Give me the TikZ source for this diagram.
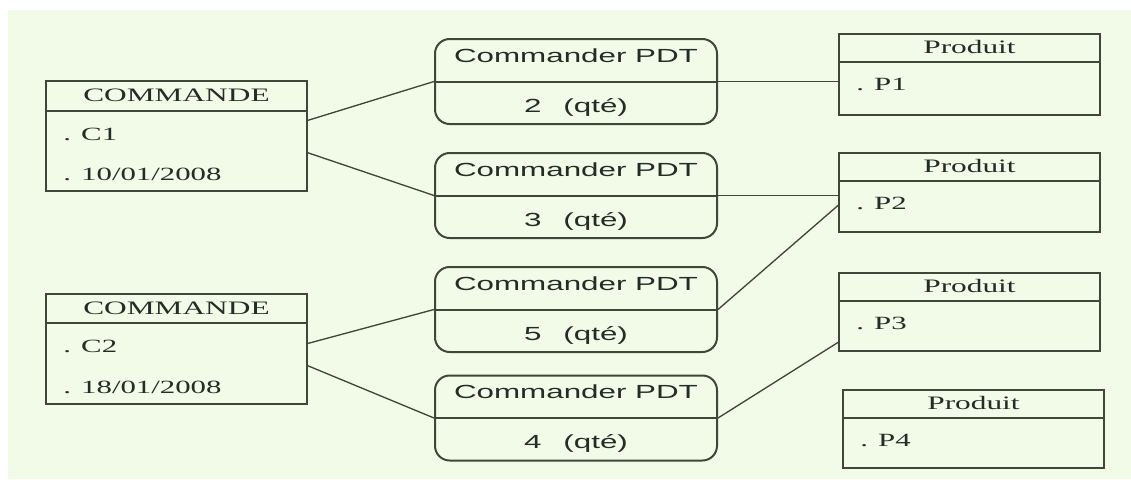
\documentclass[tikz,border=0pt]{standalone}
\usepackage{graphicx}
\usepackage{fontspec}
\setmainfont{Liberation Serif}
\newfontfamily\arialfam{Liberation Sans}
\usetikzlibrary{calc}

\definecolor{bgtint}{RGB}{242,250,232}
\definecolor{inkline}{RGB}{62,72,58}
\definecolor{inktext}{RGB}{40,42,40}

% text is set wide, as in the original drawing
\newcommand{\wide}[1]{\scalebox{1.65}[1]{#1}}

\tikzset{
  entitybox/.style={draw=inkline, line width=1.5pt, rectangle, inner sep=0pt,
                    minimum width=195.75pt},
  assocbox/.style={draw=inkline, line width=1.5pt, rectangle, rounded corners=11pt,
                   inner sep=0pt, minimum width=211.5pt, minimum height=63.75pt},
  divline/.style={draw=inkline, line width=1.5pt},
  link/.style={draw=inkline, line width=1pt},
  headserif/.style={text=inktext, inner sep=0pt, font=\fontsize{14.25}{17}\selectfont},
  bodyserif/.style={text=inktext, inner sep=0pt, anchor=base west, font=\fontsize{14}{17}\selectfont},
  headsans/.style={text=inktext, inner sep=0pt, anchor=base, font=\arialfam\fontsize{14.25}{17}\selectfont},
}

\begin{document}
\begin{tikzpicture}[x=0.75pt, y=-0.75pt]
  % canvas
  \fill[white] (0,0) rectangle (1131,479);
  \fill[bgtint] (8,10) rectangle (1131,479);
  \useasboundingbox (0,0) rectangle (1131,479);

  % ---- COMMANDE entities ----
  \node[entitybox, minimum height=82.5pt] (cmdA) at (176.5,136) {};
  \draw[divline] ($(cmdA.north west)+(0,31)$) -- ($(cmdA.north east)+(0,31)$);
  \node[headserif] (cmdAhead) at ($(cmdA.north)+(0,15.5)$) {\wide{COMMANDE}};
  \node[bodyserif] (cmdAid) at (63,140) {\wide{. C1}};
  \node[bodyserif] (cmdAdate) at (63,180) {\wide{. 10/01/2008}};

  \node[entitybox, minimum height=82.5pt] (cmdB) at (176.5,349) {};
  \draw[divline] ($(cmdB.north west)+(0,30)$) -- ($(cmdB.north east)+(0,30)$);
  \node[headserif] (cmdBhead) at ($(cmdB.north)+(0,15)$) {\wide{COMMANDE}};
  \node[bodyserif] (cmdBid) at (63,352) {\wide{. C2}};
  \node[bodyserif] (cmdBdate) at (63,393) {\wide{. 18/01/2008}};

  % ---- Commander PDT associations ----
  \foreach \nm/\cy/\qty in {relA/81.5/2, relB/195.5/3, relC/309.5/5, relD/418/4}{
    \node[assocbox] (\nm) at (576,\cy) {};
    \draw[divline] (\nm.west) -- (\nm.east);
    \node[headsans] (\nm head) at ($(\nm.north)+(0,24)$) {\wide{Commander PDT}};
    \node[headsans] (\nm qty) at ($(\nm.center)+(0,30.5)$) {\wide{\qty\hspace{10pt}(qté)}};
  }

  % ---- Produit entities ----
  \foreach \nm/\cx/\ty/\hh/\code in {prodA/969.5/34/81/P1, prodB/969.5/153/79/P2,
                                    prodC/969.5/273/78/P3, prodD/973.5/390/78/P4}{
    \node[entitybox, minimum height=\hh*0.75pt] (\nm) at (\cx,\ty+\hh/2) {};
    \draw[divline] ($(\nm.north west)+(0,29)$) -- ($(\nm.north east)+(0,29)$);
    \node[headserif, anchor=base] (\nm head) at ($(\nm.north)+(0,20.5)$) {\wide{Produit}};
    \node[bodyserif] (\nm id) at ($(\nm.north west)+(18,57.5)$) {\wide{. \code}};
  }

  % ---- links ----
  \draw[link] ($(cmdA.north east)!0.36!(cmdA.south east)$) -- (relA.west);
  \draw[link] ($(cmdA.north east)!0.65!(cmdA.south east)$) -- (relB.west);
  \draw[link] ($(cmdB.north east)!0.45!(cmdB.south east)$) -- (relC.west);
  \draw[link] ($(cmdB.north east)!0.65!(cmdB.south east)$) -- (relD.west);

  \draw[link] (relA.east) -- (relA.east -| prodA.west);
  \draw[link] (relB.east) -- (relB.east -| prodB.west);
  \draw[link] (relC.east) -- ($(prodB.north west)!0.66!(prodB.south west)$);
  \draw[link] (relD.east) -- ($(prodC.north west)!0.88!(prodC.south west)$);
\end{tikzpicture}
\end{document}
